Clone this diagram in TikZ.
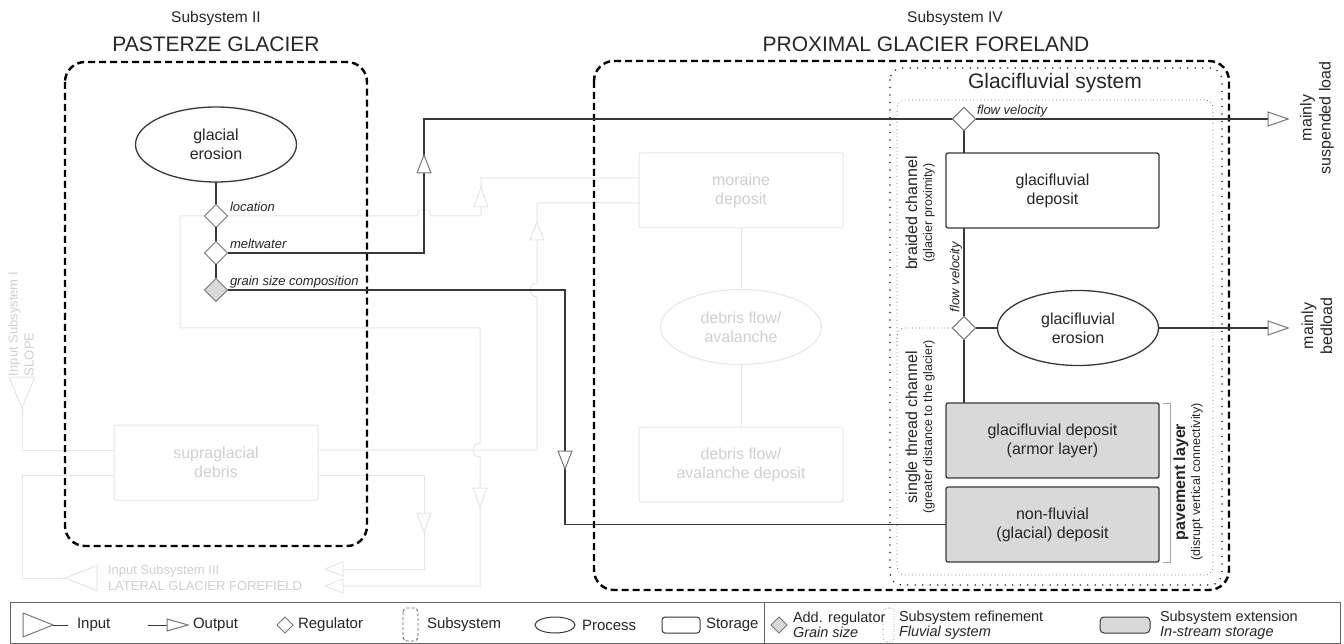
\documentclass[tikz,border=0pt]{standalone}
\usepackage{fontspec}
\setmainfont{Liberation Sans}
\usetikzlibrary{shapes.geometric,calc}
\definecolor{ln}{HTML}{383838}
\definecolor{fade}{HTML}{E6E6E6}
\definecolor{fadetxt}{HTML}{D0D0D0}
\definecolor{gfill}{HTML}{D9D9D9}
\definecolor{dgray}{HTML}{767676}
\newcommand{\fsz}[2]{\fontsize{#1}{#2}\selectfont}
\newcommand{\otri}[6]{\draw[#6,fill=white,line width=1pt,shift={(#1,#2)},rotate=#3] (0,-#5) -- (#4,0) -- (0,#5) -- cycle;}
\begin{document}
\begin{tikzpicture}[x=1pt,y=-1pt,
  every node/.style={inner sep=0pt, outer sep=0pt, text=black!85},
  flow/.style={draw=ln, line width=1.3pt},
  faded/.style={draw=fade, line width=1pt},
  storage/.style={draw=ln, line width=1.3pt, rounded corners=2pt, minimum width=213pt, minimum height=75pt, align=center, font=\fsz{16}{19}, fill=white},
  process/.style={ellipse, draw=ln, line width=1.3pt, minimum width=161pt, minimum height=75pt, align=center, font=\fsz{16}{19}, fill=white},
  reg/.style={diamond, draw=dgray, line width=1pt, fill=white, minimum width=23pt, minimum height=23pt, inner sep=0pt},
  fadebox/.style={draw=fade, line width=1pt, rounded corners=2pt, minimum width=204pt, minimum height=75pt, align=center, font=\fsz{16}{19}, text=fadetxt, fill=white},
  fadeproc/.style={ellipse, draw=fade, line width=1pt, minimum width=161pt, minimum height=75pt, align=center, font=\fsz{16}{19}, text=fadetxt, fill=white},
  fadetext/.style={text=fadetxt, font=\fsz{13}{16}},
  lab/.style={font=\fsz{13}{15}\itshape},
  subsys/.style={draw=black, line width=2.4pt, dash pattern=on 7pt off 4pt, rounded corners=20pt},
  leg/.style={font=\fsz{15}{17}, anchor=west},
  leg2/.style={font=\fsz{14.5}{15}, anchor=west, align=left}
]
\fill[white] (0,0) rectangle (1344,644);
\useasboundingbox (0,0) rectangle (1344,644);

% ---------- faded (other subsystems) ----------
\node[fadebox] (mor) at (741,190.5) {moraine\\deposit};
\node[fadeproc] (dfa) at (741,327) {debris flow/\\avalanche};
\node[fadebox] (dfd) at (741,464.5) {debris flow/\\avalanche deposit};
\node[fadebox] (sup) at (216,462.5) {supraglacial\\debris};
\draw[faded] (mor.south) -- (dfa.north);
\draw[faded] (dfa.south) -- (dfd.north);
\draw[faded] ($(mor.west)+(0,-12.5)$) -- (481,178) -- (481,216) -- (431,216) .. controls (431,207) and (417,207) .. (417,216) -- (180,216) -- (180,328) -- (480,328) -- (480,443) .. controls (471,443) and (471,457) .. (480,457) -- (480,586) -- (343,586);
\draw[faded] ($(mor.west)+(0,12.5)$) -- (537,203) -- (537,283) .. controls (528,283) and (528,297) .. (537,297) -- (537,450) -- ($(sup.east)+(0,-12.5)$);
\draw[faded] ($(sup.east)+(0,12.5)$) -- (424,475) -- (424,569) -- (343,569);
\draw[faded] ($(sup.west)+(0,-12.5)$) -- (22,450) -- (22,408);
\draw[faded] ($(sup.west)+(0,12.5)$) -- (22,475) -- (22,578) -- (65,578);
\otri{481}{207}{90}{20}{7}{draw=fade}
\otri{537}{240}{90}{18}{7}{draw=fade}
\otri{480}{488}{-90}{19}{7}{draw=fade}
\otri{424}{513}{-90}{19}{7}{draw=fade}
\otri{343}{586}{180}{18}{7}{draw=fade}
\otri{343}{569}{180}{18}{7}{draw=fade}
\otri{22}{377}{-90}{31}{13}{draw=fade}
\otri{97}{578}{180}{32}{12.5}{draw=fade}
\node[fadetext, rotate=90, anchor=west, align=left] (in1) at (21,376) {Input Subsystem I\\SLOPE};
\node[fadetext, anchor=west, align=left] (in3) at (108,578) {Input Subsystem III\\LATERAL GLACIER FOREFIELD};

% ---------- subsystem frames ----------
\draw[subsys] (65,62) rectangle (367,546);
\draw[subsys] (594,61) rectangle (1229,590);
\draw[draw=black!80, line width=1.8pt, dash pattern=on 0pt off 7.5pt, line cap=round, rounded corners=12pt] (890,68) rectangle (1222,585);
\draw[draw=black!70, line width=0.9pt, dash pattern=on 0pt off 3.6pt, line cap=round, rounded corners=8pt] (897,100) rectangle (1213,575);
\draw[draw=black!70, line width=0.9pt, dash pattern=on 0pt off 3.6pt, line cap=round, rounded corners=8pt] (897,345) -- (897,328) -- (953,328);

% ---------- titles ----------
\node[font=\fsz{15.5}{18}] (t2) at (216,18) {Subsystem II};
\node[font=\fsz{21}{24}] (T2) at (216,44) {PASTERZE GLACIER};
\node[font=\fsz{15.5}{18}] (t4) at (955,18) {Subsystem IV};
\node[font=\fsz{21}{24}] (T4) at (926,44) {PROXIMAL GLACIER FORELAND};
\node[font=\fsz{21}{24}] (gs) at (1055,83) {Glacifluvial system};

% ---------- main nodes ----------
\node[process] (ge) at (216,144.5) {glacial\\erosion};
\node[reg] (loc) at (216,216) {};
\node[reg] (melt) at (216,253) {};
\node[reg, fill=gfill] (grain) at (216,290) {};
\node[storage] (gd) at (1052.5,190.5) {glacifluvial\\deposit};
\node[process] (gfe) at (1078,328) {glacifluvial\\erosion};
\node[storage, fill=gfill] (armor) at (1052.5,440.5) {glacifluvial deposit\\(armor layer)};
\node[storage, fill=gfill] (nonfl) at (1052.5,524.5) {non-fluvial\\(glacial) deposit};
\node[reg] (fv1) at (964,119) {};
\node[reg] (fv2) at (964,328) {};
\coordinate (out1) at (1268,119);
\coordinate (out2) at (1268,328);

% ---------- connectors ----------
\draw[flow] (ge.south) -- (loc.north);
\draw[flow] (loc.south) -- (melt.north);
\draw[flow] (melt.south) -- (grain.north);
\draw[flow] (melt.east) -- (424,253) -- (424,119) -- (fv1.west);
\draw[flow] (fv1.east) -- (out1);
\draw[flow] (fv1.south) -- (fv1.south |- gd.north);
\draw[flow] (fv1 |- gd.south) -- (fv2.north);
\draw[flow] (fv2.south) -- (fv2 |- armor.north);
\draw[flow] (fv2.east) -- (gfe.west);
\draw[flow] (gfe.east) -- (out2);
\draw[flow] (grain.east) -- (565,290) -- (565,524.5) -- (nonfl.west);
\node[reg] at (fv1) {};
\node[reg] at (fv2) {};
\otri{424}{173}{90}{18}{7}{draw=dgray}
\otri{565}{451}{-90}{18}{7}{draw=dgray}
\otri{1268}{119}{0}{20}{7}{draw=dgray}
\otri{1268}{328}{0}{20}{7}{draw=dgray}
\draw[draw=black!35, line width=0.9pt] (armor.north east) ++(4,0) -- ++(7,0) -- ($(nonfl.south east)+(11,0)$) -- ++(-7,0);

% ---------- labels ----------
\node[lab, anchor=base west] (l1) at (230,212) {location};
\node[lab, anchor=base west] (l2) at (230,249) {meltwater};
\node[lab, anchor=base west] (l3) at (230,286) {grain size composition};
\node[lab, anchor=base west] (l4) at (977,115) {flow velocity};
\node[lab, rotate=90] (l5) at (956,277) {flow velocity};
\node[rotate=90, align=center, font=\fsz{16}{15}] (bc) at (920,213) {braided channel\\{\fsz{12.5}{15}(glacier proximity)}};
\node[rotate=90, align=center, font=\fsz{16}{15}] (sc) at (920,427) {single thread channel\\{\fsz{12.5}{15}(greater distance to the glacier)}};
\node[rotate=90, align=center, font=\fsz{16}{15}] (pl) at (1188,482) {\textbf{pavement layer}\\{\fsz{12.5}{15}(disrupt vertical connectivity)}};
\node[rotate=90, align=center, font=\fsz{16}{19}] (o1) at (1317,118) {mainly\\suspended load};
\node[rotate=90, align=center, font=\fsz{16}{19}] (o2) at (1317,326) {mainly\\bedload};

% ---------- legend ----------
\draw[draw=black!60, line width=0.9pt] (10,602) rectangle (1340,643);
\draw[draw=black!60, line width=0.9pt] (764,602) -- (764,643);
\draw[draw=dgray, line width=1pt] (23,613) -- (53,625) -- (23,637) -- cycle;
\draw[draw=ln, line width=1pt] (53,625) -- (68,625);
\node[leg] (li) at (77,625) {Input};
\draw[draw=ln, line width=1pt] (148,625) -- (167,625);
\draw[draw=dgray, line width=1pt] (167,619) -- (188,625) -- (167,631) -- cycle;
\node[leg] (lo) at (193,625) {Output};
\node[reg, minimum width=16pt, minimum height=16pt] (lr) at (285,625) {};
\node[leg] (lrt) at (298,625) {Regulator};
\draw[draw=black!60, line width=0.9pt, dash pattern=on 3pt off 2pt, rounded corners=4pt] (403,608) rectangle (418,641);
\node[leg] (ls) at (427,625) {Subsystem};
\node[ellipse, draw=ln, line width=1pt, minimum width=40pt, minimum height=16pt] (lp) at (555,625) {};
\node[leg] (lpt) at (582,625) {Process};
\draw[draw=ln, line width=1pt, rounded corners=3pt] (662,617) rectangle (700,633);
\node[leg] (lst) at (706,625) {Storage};
\node[reg, fill=gfill, minimum width=16pt, minimum height=16pt] (la) at (779,625) {};
\node[leg2] (lat) at (793,625) {Add. regulator\\\textit{Grain size}};
\draw[draw=black!60, line width=0.8pt, dash pattern=on 0pt off 2.5pt, line cap=round, rounded corners=4pt] (883,608) rectangle (894,642);
\node[leg2] (lrf) at (899,625) {Subsystem refinement\\\textit{Fluvial system}};
\draw[draw=ln, line width=1pt, fill=gfill, rounded corners=4pt] (1100,617) rectangle (1150,633);
\node[leg2] (lex) at (1160,625) {Subsystem extension\\\textit{In-stream storage}};
\end{tikzpicture}
\end{document}
